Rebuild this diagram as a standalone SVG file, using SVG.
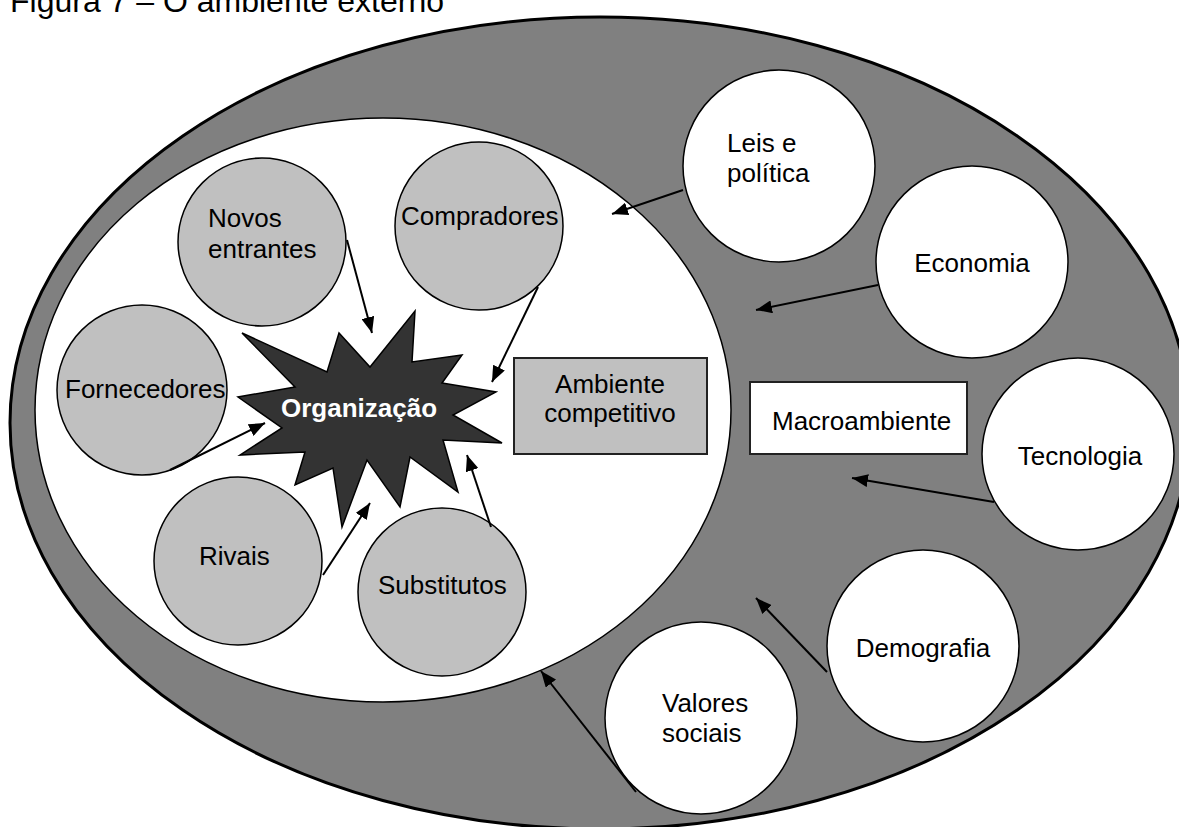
<svg xmlns="http://www.w3.org/2000/svg" width="1179" height="827" viewBox="0 0 1179 827">
  <style>
    text { font-family: "Liberation Sans", Arial, sans-serif; font-size: 26px; fill: #000; }
    .title { font-size: 32px; }
    .comp { fill: #c0c0c0; stroke: #000; stroke-width: 1.5; }
    .macro { fill: #fff; stroke: #000; stroke-width: 1.5; }
    .box { stroke: #222; stroke-width: 2; }
    .mid { text-anchor: middle; }
    .link { stroke: #000; stroke-width: 2; fill: none; marker-end: url(#head); }
  </style>
  <defs>
    <marker id="head" markerUnits="userSpaceOnUse" markerWidth="17" markerHeight="13" refX="16" refY="6.5" orient="auto">
      <path d="M0,0 L16,6.5 L0,13 z" fill="#000"/>
    </marker>
  </defs>

  <rect width="1179" height="827" fill="#fff"/>
  <text class="title" x="10" y="12">Figura 7 – O ambiente externo</text>

  <!-- external environment and competitive environment -->
  <g id="macroambiente-area">
    <ellipse cx="600" cy="423" rx="590" ry="406" fill="#808080" stroke="#000" stroke-width="3"/>
  </g>
  <g id="ambiente-competitivo-area">
    <ellipse cx="383" cy="410" rx="348" ry="292" fill="#fff" stroke="#000" stroke-width="1.5"/>
  </g>

  <!-- competitive forces -->
  <g id="novos-entrantes">
    <circle class="comp" cx="262" cy="242" r="84"/>
    <text x="208" y="227">Novos</text>
    <text x="208" y="258">entrantes</text>
  </g>
  <g id="compradores">
    <circle class="comp" cx="479" cy="226" r="84"/>
    <text x="401" y="225">Compradores</text>
  </g>
  <g id="fornecedores">
    <circle class="comp" cx="142" cy="390" r="85"/>
    <text x="65" y="398">Fornecedores</text>
  </g>
  <g id="rivais">
    <circle class="comp" cx="238" cy="561" r="84"/>
    <text x="199" y="565">Rivais</text>
  </g>
  <g id="substitutos">
    <circle class="comp" cx="442" cy="592" r="84"/>
    <text x="378" y="594">Substitutos</text>
  </g>

  <g id="organizacao">
    <polygon points="242,333 327,372 339,333 370,367 415,311 412,362 462,355 442,383 496,392 453,415 502,443 443,440 458,492 410,457 400,507 367,460 342,527 333,468 295,485 305,452 240,455 282,428 238,397 295,387" fill="#333" stroke="#000" stroke-width="1.5" stroke-linejoin="miter"/>
    <text class="mid" x="359" y="417" font-weight="bold" style="fill:#fff">Organização</text>
  </g>

  <g id="ambiente-competitivo">
    <rect class="box" x="514" y="358" width="193" height="96" fill="#c0c0c0"/>
    <text class="mid" x="610" y="393">Ambiente</text>
    <text class="mid" x="610" y="422">competitivo</text>
  </g>

  <!-- macro forces -->
  <g id="leis-politica">
    <circle class="macro" cx="779" cy="166" r="96"/>
    <text x="727" y="152">Leis e</text>
    <text x="727" y="182">política</text>
  </g>
  <g id="economia">
    <circle class="macro" cx="972" cy="262" r="96"/>
    <text class="mid" x="972" y="272">Economia</text>
  </g>
  <g id="tecnologia">
    <circle class="macro" cx="1078" cy="454" r="96"/>
    <text class="mid" x="1080" y="465">Tecnologia</text>
  </g>
  <g id="demografia">
    <circle class="macro" cx="923" cy="646" r="96"/>
    <text class="mid" x="923" y="657">Demografia</text>
  </g>
  <g id="valores-sociais">
    <circle class="macro" cx="701" cy="718" r="96"/>
    <text x="662" y="712">Valores</text>
    <text x="662" y="742">sociais</text>
  </g>

  <g id="macroambiente">
    <rect class="box" x="750" y="382" width="217" height="72" fill="#fff"/>
    <text x="772" y="430">Macroambiente</text>
  </g>

  <!-- influence arrows -->
  <g id="connectors">
    <line class="link" x1="347" y1="240" x2="372" y2="333"/>
    <line class="link" x1="538" y1="287" x2="492" y2="382"/>
    <line class="link" x1="170" y1="470" x2="265" y2="423"/>
    <line class="link" x1="323" y1="575" x2="370" y2="503"/>
    <line class="link" x1="491" y1="527" x2="467" y2="455"/>
    <line class="link" x1="683" y1="190" x2="612" y2="214"/>
    <line class="link" x1="878" y1="285" x2="756" y2="310"/>
    <line class="link" x1="994" y1="502" x2="852" y2="478"/>
    <line class="link" x1="827" y1="672" x2="756" y2="598"/>
    <line class="link" x1="636" y1="792" x2="541" y2="671"/>
  </g>
</svg>
